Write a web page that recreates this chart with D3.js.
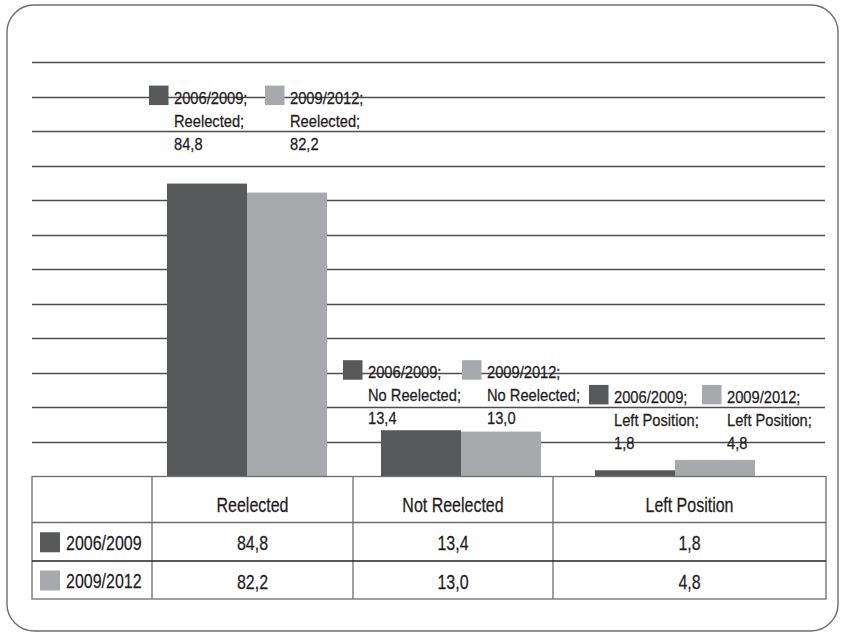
<!DOCTYPE html>
<html>
<head>
<meta charset="utf-8">
<script src="https://cdn.jsdelivr.net/npm/d3@7"></script>
<style>
  html, body { margin: 0; padding: 0; background: #fff; }
  svg { display: block; }
  text { font-family: "Liberation Sans", Arial, sans-serif; fill: #1f1c1d; stroke: #1f1c1d; stroke-width: 0.25px; }
</style>
</head>
<body>
<svg id="chart" width="844" height="636"></svg>
<script>
// ---- data ----
const categories = ["Reelected", "Not Reelected", "Left Position"];
const labelCategories = ["Reelected", "No Reelected", "Left Position"];
const series = ["2006/2009", "2009/2012"];
const values2006 = [84.8, 13.4, 1.8];
const values2009 = [82.2, 13.0, 4.8];
const yTicks = [0, 10, 20, 30, 40, 50, 60, 70, 80, 90, 100, 110, 120];

// ---- layout (pixels) ----
const colors = ["#58595b", "#a7a9ac"];
const plotLeft = 32, plotRight = 825, plotTop = 62, plotBottom = 476.5;
const tableCols = [32, 152, 353, 553, 826];
const tableRows = [476.5, 522.5, 561, 599];
const labelLift = [80, 52, 57];          // label first-baseline above taller bar
const labelKeyDx = [[-18, 98], [-38, 81], [-6, 107]]; // key x relative to group left
const lineGap = 23;
const labelFont = { size: 16.5, sx: 0.89 };
const tableFont = { size: 20.5, sx: 0.78 };

const valuesBySeries = [values2006, values2009];
const fmt = v => d3.format(".1f")(v).replace(".", ",");

const svg = d3.select("#chart");

function addText(parent, x, yy, str, font, anchor) {
  return parent.append("text")
    .attr("transform", `translate(${x},${yy}) scale(${font.sx},1)`)
    .attr("text-anchor", anchor || "start")
    .attr("font-size", font.size)
    .text(str);
}

// rounded frame
svg.append("rect")
  .attr("x", 7).attr("y", 5).attr("width", 831).attr("height", 626)
  .attr("rx", 27).attr("ry", 27)
  .attr("fill", "none").attr("stroke", "#6d6e70").attr("stroke-width", 1.4);

// scales
const y = d3.scaleLinear().domain([0, 120]).range([plotBottom, plotTop]);
const x0 = d3.scaleBand().domain(categories).range([167, 755]).paddingInner(0.2523).paddingOuter(0);
const x1 = d3.scaleBand().domain(series).range([0, x0.bandwidth()]);

// gridlines
svg.append("g").selectAll("line")
  .data(yTicks.filter(t => t > 0))
  .join("line")
  .attr("x1", plotLeft).attr("x2", plotRight)
  .attr("y1", d => Math.round(y(d)) + 0.5).attr("y2", d => Math.round(y(d)) + 0.5)
  .attr("stroke", "#4d4d4f").attr("stroke-width", 1.3);

// bars
const groups = svg.append("g").selectAll("g")
  .data(categories)
  .join("g")
  .attr("transform", d => `translate(${x0(d)},0)`);

groups.selectAll("rect")
  .data((d, i) => series.map((s, j) => ({ s, j, v: valuesBySeries[j][i] })))
  .join("rect")
  .attr("x", d => x1(d.s))
  .attr("width", x1.bandwidth())
  .attr("y", d => y(d.v))
  .attr("height", d => y(0) - y(d.v))
  .attr("fill", d => colors[d.j]);

// data labels
categories.forEach((c, i) => {
  const gmax = Math.max(values2006[i], values2009[i]);
  const base = y(gmax) - labelLift[i];
  series.forEach((s, j) => {
    const kx = x0(c) + labelKeyDx[i][j];
    const g = svg.append("g");
    g.append("rect")
      .attr("x", kx).attr("y", base - 18).attr("width", 19.5).attr("height", 19.5)
      .attr("fill", colors[j]);
    const lines = [s + ";", labelCategories[i] + ";", fmt(valuesBySeries[j][i])];
    lines.forEach((t, k) => addText(g, kx + 25, base + k * lineGap, t, labelFont));
  });
});

// data table
const table = svg.append("g");
table.append("rect")
  .attr("x", tableCols[0]).attr("y", tableRows[0])
  .attr("width", tableCols[4] - tableCols[0]).attr("height", tableRows[3] - tableRows[0])
  .attr("fill", "#fff").attr("stroke", "#6d6e70").attr("stroke-width", 1.3);
table.selectAll("line.v")
  .data(tableCols.slice(1, 4))
  .join("line").attr("class", "v")
  .attr("x1", d => d).attr("x2", d => d)
  .attr("y1", tableRows[0]).attr("y2", tableRows[3])
  .attr("stroke", "#6d6e70").attr("stroke-width", 1.3);
table.selectAll("line.h")
  .data(tableRows.slice(1, 3))
  .join("line").attr("class", "h")
  .attr("x1", tableCols[0]).attr("x2", tableCols[4])
  .attr("y1", d => d).attr("y2", d => d)
  .attr("stroke", (d, i) => i === 1 ? "#231f20" : "#6d6e70").attr("stroke-width", 1.3);

// header
categories.forEach((c, i) => {
  addText(table, (tableCols[i + 1] + tableCols[i + 2]) / 2, 512, c, tableFont, "middle");
});
// rows
series.forEach((s, j) => {
  const rowMid = (tableRows[j + 1] + tableRows[j + 2]) / 2;
  table.append("rect")
    .attr("x", 40).attr("y", rowMid - 9.5).attr("width", 20).attr("height", 20)
    .attr("fill", colors[j]);
  addText(table, 66, rowMid + 8, s, tableFont);
  categories.forEach((c, i) => {
    addText(table, (tableCols[i + 1] + tableCols[i + 2]) / 2, rowMid + 8.5,
      fmt(valuesBySeries[j][i]), tableFont, "middle");
  });
});
</script>
</body>
</html>
